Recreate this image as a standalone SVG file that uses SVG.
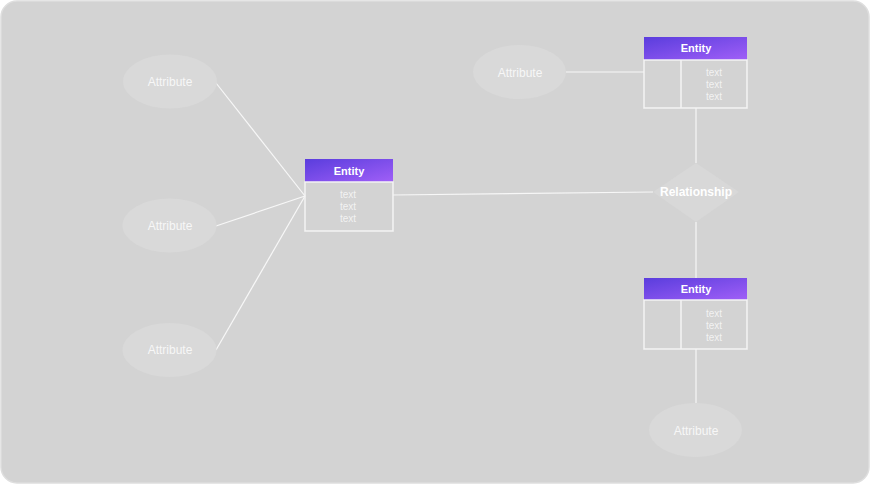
<svg xmlns="http://www.w3.org/2000/svg" width="870" height="484" viewBox="0 0 870 484">
<style>
.attr ellipse{fill:#d9d9d9;}
.attr text{fill:#f7f7f7;font-family:"Liberation Sans",Arial,sans-serif;font-size:12px;text-anchor:middle;dominant-baseline:central;}
.hdr{fill:url(#g);}
.body{fill:none;stroke:#f4f4f4;stroke-width:1.5;}
.title{fill:#ffffff;font-family:"Liberation Sans",Arial,sans-serif;font-size:11px;font-weight:bold;text-anchor:middle;dominant-baseline:central;}
.row{fill:#f2f2f2;font-family:"Liberation Sans",Arial,sans-serif;font-size:10px;text-anchor:middle;dominant-baseline:central;}
.conn line{stroke:#f7f7f7;stroke-width:1.2;}
</style>
<defs>
<linearGradient id="g" x1="0" y1="0" x2="1" y2="1">
<stop offset="0" stop-color="#5a3ddd"/>
<stop offset="1" stop-color="#a05ff7"/>
</linearGradient>
</defs>
<rect x="1" y="1" width="868" height="482" rx="16" fill="#d3d3d3" stroke="#dedede" stroke-width="1.5"/>
<g id="connectors" class="conn">
<line x1="216" y1="83" x2="305" y2="196"/>
<line x1="216" y1="226" x2="305" y2="196"/>
<line x1="216" y1="350" x2="305" y2="196"/>
<line x1="393" y1="195" x2="653" y2="192"/>
<line x1="566" y1="72" x2="644" y2="72"/>
<line x1="696" y1="108" x2="696" y2="163"/>
<line x1="696" y1="222" x2="696" y2="278"/>
<line x1="696" y1="349" x2="696" y2="403"/>
</g>
<g id="attr1" class="attr"><ellipse cx="170" cy="81.5" rx="47" ry="27"/><text x="170" y="82">Attribute</text></g>
<g id="attr2" class="attr"><ellipse cx="169.5" cy="225.5" rx="47" ry="27"/><text x="170" y="226">Attribute</text></g>
<g id="attr3" class="attr"><ellipse cx="169.5" cy="350" rx="47" ry="27"/><text x="170" y="350">Attribute</text></g>
<g id="attr4" class="attr"><ellipse cx="519.5" cy="72" rx="46.5" ry="27"/><text x="520" y="73">Attribute</text></g>
<g id="attr5" class="attr"><ellipse cx="695.5" cy="430" rx="46.5" ry="27"/><text x="696" y="431">Attribute</text></g>
<g id="entity1">
<rect class="hdr" x="305" y="159" width="88" height="23"/>
<text class="title" x="349" y="171">Entity</text>
<rect class="body" x="305" y="182" width="88" height="49"/>
<text class="row" x="348" y="194">text</text>
<text class="row" x="348" y="206">text</text>
<text class="row" x="348" y="218">text</text>
</g>
<g id="entity2">
<rect class="hdr" x="644" y="37" width="103" height="23"/>
<text class="title" x="696" y="48">Entity</text>
<rect class="body" x="644" y="60" width="103" height="48"/>
<line x1="681" y1="60" x2="681" y2="108" stroke="#f4f4f4" stroke-width="1.5"/>
<text class="row" x="714" y="72">text</text>
<text class="row" x="714" y="84">text</text>
<text class="row" x="714" y="96">text</text>
</g>
<g id="relationship">
<polygon points="696,163 739,192 696,222 653,192" fill="#d8d8d8"/>
<text class="title" x="696" y="192" style="font-size:12px">Relationship</text>
</g>
<g id="entity3">
<rect class="hdr" x="644" y="278" width="103" height="22"/>
<text class="title" x="696" y="289">Entity</text>
<rect class="body" x="644" y="300" width="103" height="49"/>
<line x1="681" y1="300" x2="681" y2="349" stroke="#f4f4f4" stroke-width="1.5"/>
<text class="row" x="714" y="313">text</text>
<text class="row" x="714" y="325">text</text>
<text class="row" x="714" y="337">text</text>
</g>
</svg>
